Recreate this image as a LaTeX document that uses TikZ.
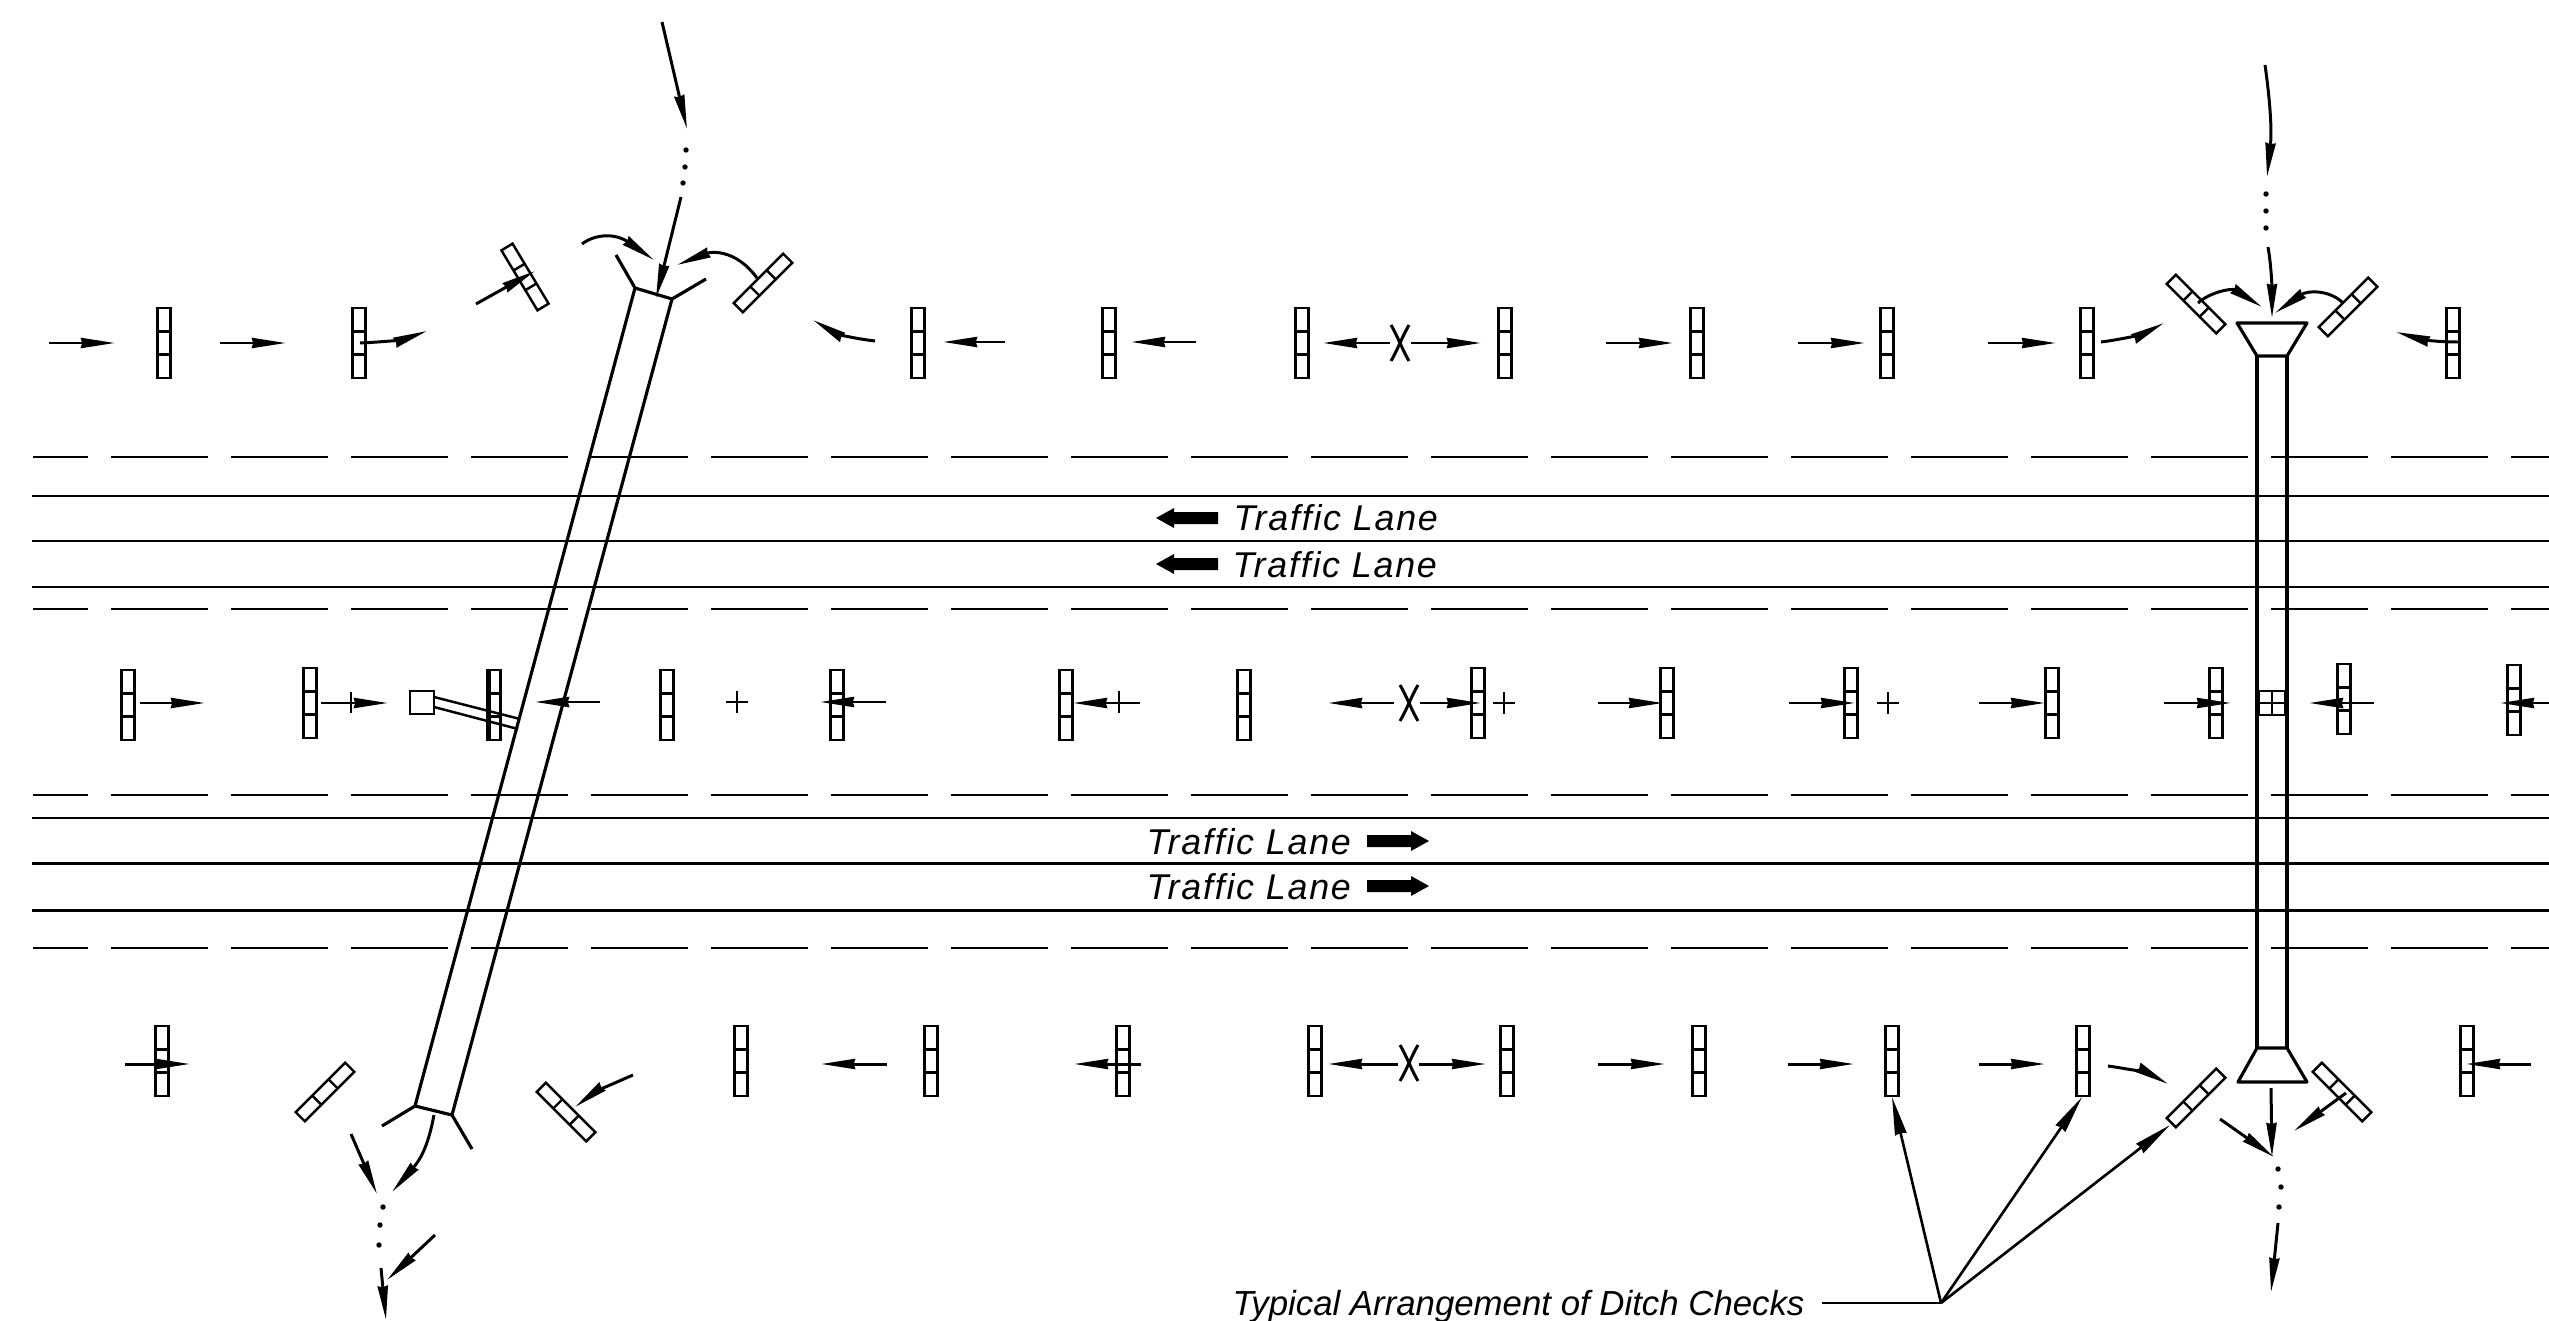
\documentclass[tikz,border=0pt]{standalone}
\usepackage{fontspec}
\setmainfont{Liberation Sans}
\usetikzlibrary{arrows.meta}
\newfontfamily\lblfont[LetterSpace=4.9]{Liberation Sans}
\newfontfamily\leadfont[LetterSpace=0]{Liberation Sans}
\tikzset{
  chkline/.style={line width=.7pt,line join=miter},
  road/.style={line width=.85pt},
  dashline/.style={line width=.6pt},
  pipe/.style={line width=.9pt,line join=round},
  inlet/.style={line width=.7pt,line join=miter},
  arr/.style={line width=.85pt,-{Stealth[length=3.4mm,width=1mm,inset=.12mm]}},
  lead/.style={line width=.75pt,-{Stealth[length=3.8mm,width=1.15mm,inset=.12mm]}},
  thin tick/.style={line width=.8pt},
  lbl/.style={font=\fontsize{10.2}{12}\selectfont\lblfont\itshape,inner sep=0pt,anchor=base west},
  leadlbl/.style={font=\fontsize{9.9}{12}\selectfont\leadfont\itshape,inner sep=0pt,anchor=base west},
}
\newcommand\chk[3]{\begin{scope}[shift={(#1,#2)},rotate=#3]
  \draw[chkline](-6.5,-35) rectangle (6.5,35);
  \draw[chkline](-6.5,-11.5)--(6.5,-11.5) (-6.5,11.5)--(6.5,11.5);
\end{scope}}
\newcommand\dashrow[1]{%
  \draw[dashline](33,#1)--(88,#1);
  \foreach \n in {0,...,19}{\draw[dashline]({111+120*\n},#1)--({208+120*\n},#1);}
  \draw[dashline](2511,#1)--(2549,#1);}
\newcommand\plusmark[2]{\draw[thin tick](#1-11,#2)--(#1+11,#2) (#1,#2-11)--(#1,#2+11);}
\newcommand\xmark[2]{\draw[line width=.85pt](#1-9,#2-18) .. controls (#1-1,#2-4) and (#1+1,#2+4) .. (#1+9,#2+18);
  \draw[line width=.85pt](#1+9,#2-18) .. controls (#1+1,#2-4) and (#1-1,#2+4) .. (#1-9,#2+18);}
\newcommand\bigarrowL[2]{\fill (#1,#2) -- (#1+18,#2-10) -- (#1+18,#2-6) -- (#1+62,#2-6) -- (#1+62,#2+6) -- (#1+18,#2+6) -- (#1+18,#2+10) -- cycle;}
\newcommand\bigarrowR[2]{\fill (#1,#2) -- (#1-18,#2-10) -- (#1-18,#2-6) -- (#1-62,#2-6) -- (#1-62,#2+6) -- (#1-18,#2+6) -- (#1-18,#2+10) -- cycle;}
\newcommand\dotm[2]{\fill (#1,#2) circle[radius=.27mm];}
\begin{document}
\begin{tikzpicture}[x=.1mm,y=-.1mm]
\useasboundingbox (0,0) rectangle (2549,1321);
% road
\foreach \y in {496,541,587,818,863,910}{\draw[road](32,\y)--(2549,\y);}
\foreach \y in {457,609,795,948}{\dashrow{\y}}
% lane labels
\bigarrowL{1156}{518}
\bigarrowL{1156}{564}
\bigarrowR{1429}{841}
\bigarrowR{1429}{886}
\node[lbl] (t1) at (1233,530) {Traffic Lane};
\node[lbl] (t2) at (1232,577) {Traffic Lane};
\node[lbl] (t3) at (1146,854) {Traffic Lane};
\node[lbl] (t4) at (1146,899) {Traffic Lane};
% left culvert
\draw[pipe](616,255)--(635,288)--(672,299)--(706,279);
\draw[pipe](635,288)--(415,1106)--(452,1115)--(672,299);
\draw[pipe](382,1126)--(415,1106) (452,1115)--(472,1149);
% inlet connection
\draw[inlet](410,691) rectangle (434,714);
\draw[inlet](434,697)--(520,719) (434,707)--(518,729);
% right culvert
\draw[pipe](2257,356)--(2237,323)--(2307,323)--(2287,356)--cycle;
\draw[pipe](2257,356)--(2257,1048) (2287,356)--(2287,1048);
\draw[pipe](2257,1048)--(2287,1048)--(2307,1082)--(2238,1082)--cycle;
\draw[inlet](2259,691) rectangle (2285,715);
\draw[inlet](2272,691)--(2272,715) (2259,703)--(2285,703);
% top row checks
\foreach \x in {164,359,918,1109,1302,1505,1697,1887,2087,2453}{\chk{\x}{343}{0}}
\chk{525}{277}{31}
\chk{763}{283}{-45}
\chk{2196}{304}{45}
\chk{2348}{307}{-45}
% middle row checks
\foreach \x in {128,494,667,837,1066,1244}{\chk{\x}{705}{0}}
\foreach \x in {310,1478,1667,1851,2052,2216}{\chk{\x}{703}{0}}
\chk{2344}{699}{0}
\chk{2514}{700}{0}
\draw[chkline](490,670)--(490,740);
% bottom row checks
\foreach \x in {162,741,931,1123,1315,1507,1699,1892,2083,2467}{\chk{\x}{1061}{0}}
\chk{325}{1092}{-45}
\chk{566}{1112}{45}
\chk{2196}{1098}{-45}
\chk{2342}{1092}{45}
\draw[chkline](1309,1026)--(1309,1096);
% top row arrows
\draw[arr](49,343)--(115,343);
\draw[arr](220,343)--(286,343);
\draw[arr](360,343) .. controls (385,342) and (405,339) .. (427,331);
\draw[arr](476,304)--(535,271);
\draw[arr](875,341) .. controls (850,338) and (835,333) .. (813,320);
\draw[arr](1005,342)--(943,342);
\draw[arr](1196,342)--(1131,342);
\draw[arr](1390,343)--(1323,343);
\xmark{1400}{343}
\draw[arr](1411,343)--(1481,343);
\draw[arr](1606,343)--(1673,343);
\draw[arr](1798,343)--(1865,343);
\draw[arr](1988,343)--(2056,343);
\draw[arr](2101,342) .. controls (2125,339) and (2145,333) .. (2164,323);
\draw[arr](2198,303) .. controls (2210,292) and (2232,288) .. (2262,307);
\draw[arr](2343,303) .. controls (2330,290) and (2308,290) .. (2275,313);
\draw[arr](2458,342) .. controls (2435,342) and (2420,339) .. (2396,332);
% left culvert arrows
\draw[arr](662,22) -- (687,129);
\dotm{686}{150}\dotm{685}{167}\dotm{683}{183}
\draw[arr](681,197)--(656,298);
\draw[arr](582,244) .. controls (595,234) and (615,233) .. (654,260);
\draw[arr](757,278) .. controls (735,248) and (710,252) .. (677,265);
% right culvert arrows
\draw[arr](2265,65) .. controls (2270,100) and (2272,130) .. (2267,177);
\dotm{2266}{194}\dotm{2266}{211}\dotm{2266}{228}
\draw[arr](2268,247) .. controls (2272,270) and (2272,295) .. (2272,318);
% middle row arrows
\draw[arr](140,703)--(205,703);
\draw[arr](321,703)--(388,703);
\draw[thin tick](351,692)--(351,713);
\draw[arr](600,702)--(535,702);
\plusmark{737}{702}
\draw[arr](886,702)--(820,702);
\draw[arr](1140,703)--(1073,703);
\draw[thin tick](1119,691)--(1119,713);
\draw[arr](1394,703)--(1328,703);
\xmark{1409}{703}
\draw[arr](1420,703)--(1481,703);
\plusmark{1504}{703}
\draw[arr](1598,703)--(1663,703);
\draw[arr](1789,703)--(1855,703);
\plusmark{1888}{703}
\draw[arr](1979,703)--(2045,703);
\draw[arr](2164,703)--(2231,703);
\draw[arr](2374,703)--(2309,703);
\draw[arr](2549,703)--(2500,703);
% bottom row arrows
\draw[arr](125,1064)--(190,1064);
\draw[arr](633,1075) .. controls (610,1085) and (595,1092) .. (575,1107);
\draw[arr](887,1064)--(821,1064);
\draw[arr](1141,1064)--(1074,1064);
\draw[arr](1398,1064)--(1328,1064);
\xmark{1409}{1063}
\draw[arr](1419,1064)--(1486,1064);
\draw[arr](1598,1064)--(1665,1064);
\draw[arr](1788,1064)--(1854,1064);
\draw[arr](1979,1064)--(2045,1064);
\draw[arr](2108,1066) .. controls (2130,1069) and (2150,1074) .. (2168,1084);
\draw[arr](2346,1093)--(2294,1131);
\draw[arr](2271,1088)--(2272,1157);
\draw[arr](2220,1119)--(2274,1157);
\dotm{2278}{1169}\dotm{2281}{1187}\dotm{2279}{1207}
\draw[arr](2278,1223)--(2271,1292);
\draw[arr](2531,1064)--(2466,1064);
% lower-left outlet arrows
\draw[arr](434,1115) .. controls (428,1147) and (420,1160) .. (392,1192);
\draw[arr](351,1134)--(377,1194);
\dotm{383}{1207}\dotm{380}{1225}\dotm{379}{1245}
\draw[arr](435,1235)--(387,1280);
\draw[arr](381,1268)--(386,1320);
% leader
\node[leadlbl] (lab) at (1232,1315) {Typical Arrangement of Ditch Checks};
\coordinate (apex) at (1941,1303);
\coordinate (ch1) at (1892,1097);
\coordinate (ch2) at (2082,1097);
\coordinate (ch3) at (2170,1125);
\draw[line width=.75pt](1822,1303)--(apex);
\draw[lead](apex)--(ch1);
\draw[lead](apex)--(ch2);
\draw[lead](apex)--(ch3);
\end{tikzpicture}
\end{document}
